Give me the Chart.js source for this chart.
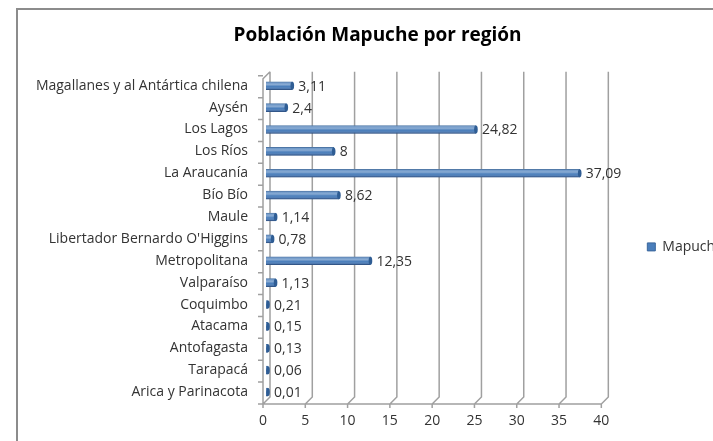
<!DOCTYPE html>
<html lang="es">
<head>
  <meta charset="UTF-8" />
  <title>Población Mapuche por región</title>
  <script src="https://cdn.jsdelivr.net/npm/chart.js"></script>
  <style>
    html, body { margin: 0; padding: 0; width: 713px; height: 441px; overflow: hidden; background: #fff; }
    .marco { position: absolute; left: 16px; top: 8px; width: 900px; height: 600px; border: 2px solid #8c8c8c; }
    #grafico { position: absolute; left: 0; top: 0; }
  </style>
</head>
<body>

  <div class="marco"></div>
  <canvas id="grafico" width="780" height="441"></canvas>

  <script>
    // regiones (de arriba hacia abajo, como en el gráfico)
    const regiones = [
      'Magallanes y al Antártica chilena', 'Aysén', 'Los Lagos', 'Los Ríos',
      'La Araucanía', 'Bío Bío', 'Maule', "Libertador Bernardo O'Higgins",
      'Metropolitana', 'Valparaíso', 'Coquimbo', 'Atacama', 'Antofagasta',
      'Tarapacá', 'Arica y Parinacota'
    ];
    // porcentaje de población mapuche
    const mapuche = [3.11, 2.4, 24.82, 8, 37.09, 8.62, 1.14, 0.78, 12.35, 1.13, 0.21, 0.15, 0.13, 0.06, 0.01];
    // marcas del eje X
    const ejeX = [0, 5, 10, 15, 20, 25, 30, 35, 40];

    const titulo = 'Población Mapuche por región';
    const nombreSerie = 'Mapuche';

    Chart.defaults.font.family = 'Open Sans';
    Chart.defaults.color = '#333';

    // decimales con coma
    const conComa = v => String(v).replace('.', ',');

    // suelo y paredes "3D" como en Excel
    const marco3d = {
      id: 'marco3d',
      beforeDatasetsDraw(chart) {
        const { ctx, chartArea: a, scales: { x, y } } = chart;
        const frente = -3, prof = 7;
        const fy = a.bottom + 1, by = fy - prof, arriba = a.top - 3;
        const x0 = x.getPixelForValue(ejeX[0]) + frente;
        const x1 = x.getPixelForValue(ejeX[ejeX.length - 1]) + frente;
        ctx.save();
        ctx.strokeStyle = '#a0a0a0';
        ctx.lineWidth = 1.5;
        ctx.beginPath();
        ctx.moveTo(x0, fy);
        ctx.lineTo(x1, fy);
        ejeX.forEach(v => {
          const px = x.getPixelForValue(v) + frente;
          ctx.moveTo(px, fy + 4);
          ctx.lineTo(px, fy);
          ctx.lineTo(px + prof, by);
          ctx.lineTo(px + prof, arriba);
        });
        // pared izquierda
        ctx.moveTo(x0, fy);
        ctx.lineTo(x0, arriba + prof);
        ctx.lineTo(x0 + prof, arriba);
        for (let i = 0; i <= regiones.length; i++) {
          const py = y.getPixelForValue(i - 0.5) + 1;
          ctx.moveTo(x0 - 5, py);
          ctx.lineTo(x0, py);
        }
        ctx.stroke();
        ctx.restore();
      }
    };

    // brillo de las barras, tapa y etiquetas de valor
    const barras3d = {
      id: 'barras3d',
      afterDatasetsDraw(chart) {
        const { ctx } = chart;
        const meta = chart.getDatasetMeta(0);
        ctx.save();
        meta.data.forEach((bar, i) => {
          const { x, y, base, height } = bar.getProps(['x', 'y', 'base', 'height'], true);
          const t = y - height / 2;
          const g = ctx.createLinearGradient(0, t, 0, t + height);
          g.addColorStop(0, 'rgba(255,255,255,0.15)');
          g.addColorStop(0.35, 'rgba(255,255,255,0.35)');
          g.addColorStop(0.6, 'rgba(255,255,255,0)');
          g.addColorStop(1, 'rgba(0,0,40,0.3)');
          ctx.fillStyle = g;
          ctx.fillRect(base, t, x - base, height);
          ctx.fillStyle = '#2f5d94';
          ctx.beginPath();
          ctx.ellipse(x, y, 1.8, height / 2, 0, 0, Math.PI * 2);
          ctx.fill();

          ctx.fillStyle = '#333';
          ctx.font = '14px "Open Sans"';
          ctx.textBaseline = 'middle';
          ctx.textAlign = 'left';
          ctx.fillText(conComa(mapuche[i]), x + 6, y + 1);
        });
        ctx.restore();
      }
    };

    new Chart(document.getElementById('grafico'), {
      type: 'bar',
      data: {
        labels: regiones,
        datasets: [{
          label: nombreSerie,
          data: mapuche,
          backgroundColor: '#4a7ebb',
          borderColor: '#3a679c',
          borderWidth: 1,
          barThickness: 8,
          minBarLength: 2
        }]
      },
      options: {
        indexAxis: 'y',
        responsive: false,
        animation: false,
        layout: { padding: { left: 22, right: 47, top: 0, bottom: 0 } },
        plugins: {
          title: {
            display: true,
            text: titulo,
            color: '#000',
            font: { size: 19, weight: 'bold' },
            padding: { top: 24, bottom: 28 }
          },
          legend: {
            position: 'right',
            fullSize: false,
            title: { display: true, text: '', font: { size: 10 }, padding: { top: 4, bottom: 0 } },
            labels: { boxWidth: 8, boxHeight: 8, padding: 43, font: { size: 14 } }
          },
          tooltip: { enabled: false }
        },
        scales: {
          x: {
            type: 'linear',
            min: ejeX[0],
            max: ejeX[ejeX.length - 1],
            afterBuildTicks: s => { s.ticks = ejeX.map(v => ({ value: v })); },
            afterFit: s => { s.height = 38; },
            grid: { display: false, drawTicks: false },
            border: { display: false },
            ticks: { padding: 10, labelOffset: -3, font: { size: 14 } }
          },
          y: {
            afterFit: s => { s.width = 244; },
            grid: { display: false, drawTicks: false },
            border: { display: false },
            ticks: { padding: 18, font: { size: 14 } }
          }
        }
      },
      plugins: [marco3d, barras3d]
    });
  </script>

</body>
</html>
